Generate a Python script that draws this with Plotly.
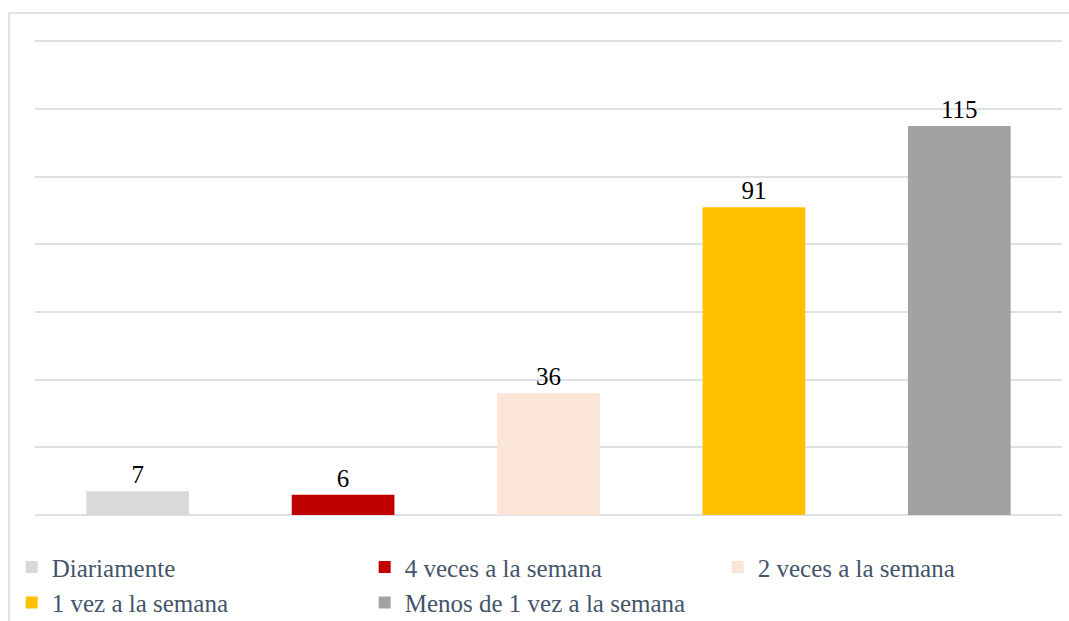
import plotly.graph_objects as go

categories = ["Diariamente", "4 veces a la semana", "2 veces a la semana",
              "1 vez a la semana", "Menos de 1 vez a la semana"]
values = [7, 6, 36, 91, 115]
colors = ["#d9d9d9", "#c00000", "#fbe5d6", "#ffc000", "#a2a2a2"]

SERIF = "Liberation Serif, Times New Roman, Times, serif"

fig = go.Figure()
for cat, val, col in zip(categories, values, colors):
    fig.add_trace(go.Bar(
        x=[cat], y=[val], name=cat,
        marker=dict(color=col, line=dict(width=0)),
        width=0.5,
        text=[str(val)], textposition="outside",
        textfont=dict(family=SERIF, size=25, color="#000000"),
        cliponaxis=False,
    ))

fig.update_layout(
    width=1069, height=621,
    margin=dict(l=35, r=7, t=40, b=106, autoexpand=False),
    paper_bgcolor="white", plot_bgcolor="white",
    font=dict(family=SERIF),
    barmode="overlay",
    showlegend=True,
    legend=dict(
        orientation="h", x=-0.0227, xanchor="left", y=-0.232, yanchor="bottom",
        entrywidth=308, entrywidthmode="pixels",
        bgcolor="rgba(0,0,0,0)",
        font=dict(family=SERIF, size=25, color="#44546a"),
        itemwidth=30, tracegroupgap=0,
    ),
    xaxis=dict(showticklabels=False, showgrid=False, zeroline=False,
               categoryorder="array", categoryarray=categories,
               showline=False),
    yaxis=dict(range=[0, 140.4], dtick=20, showticklabels=False,
               showgrid=True, gridcolor="#dde1e6", gridwidth=2,
               zeroline=True, zerolinecolor="#dde1e6", zerolinewidth=2),
    shapes=[dict(type="rect", xref="paper", yref="paper",
                 x0=-0.0253, x1=1.02, y0=-0.3, y1=1.0568,
                 line=dict(color="#dfe3e8", width=2), layer="below")],
)

fig.write_html("out.html", config={"displayModeBar": False},
               post_script="document.body.style.margin='0';document.body.style.padding='0';")
